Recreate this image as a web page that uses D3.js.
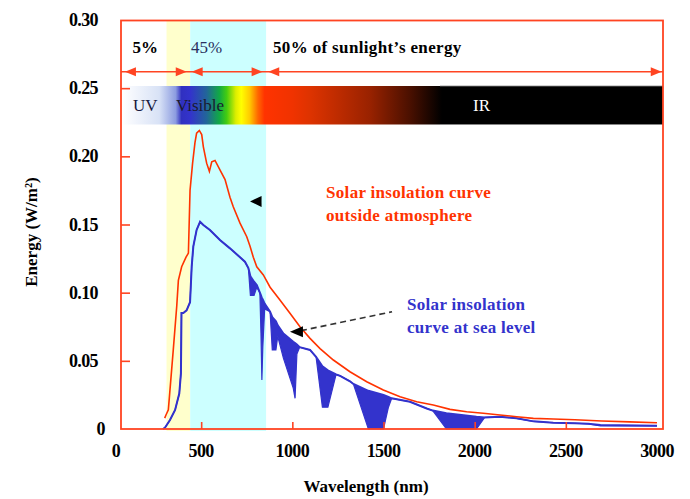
<!DOCTYPE html>
<html><head><meta charset="utf-8">
<script src="https://cdn.jsdelivr.net/npm/d3@7"></script>
<style>
body{margin:0;background:#fff;}
svg{display:block;font-family:"Liberation Serif","Times New Roman",serif;}
</style>
</head><body>
<svg id="c" width="690" height="499"></svg>
<script>
// ---------- data ----------
const wavelengthTicks = [0, 500, 1000, 1500, 2000, 2500, 3000];
const energyTicks = [0, 0.05, 0.10, 0.15, 0.20, 0.25, 0.30];

// Solar insolation curve outside atmosphere (nm, W/m²)
const outsideWl = [300, 307, 320, 347, 366, 375, 393, 417, 430, 439, 453, 466, 475, 490, 503, 512, 530, 545, 558, 576, 603, 631, 658, 676, 713, 750, 768, 786, 805, 841, 878, 932, 987, 1042, 1097, 1152, 1225, 1316, 1408, 1499, 1591, 1682, 1773, 1865, 1956, 2047, 2139, 2230, 2322, 2431, 2550, 2697, 2850, 3000];
const outsideEnergy = [0.008, 0.0103, 0.014, 0.058, 0.090, 0.109, 0.119, 0.126, 0.129, 0.175, 0.195, 0.210, 0.217, 0.219, 0.216, 0.207, 0.195, 0.189, 0.196, 0.197, 0.190, 0.183, 0.170, 0.163, 0.151, 0.141, 0.134, 0.126, 0.119, 0.113, 0.104, 0.0946, 0.0849, 0.075, 0.0665, 0.059, 0.0506, 0.042, 0.0347, 0.0286, 0.0237, 0.020, 0.0176, 0.0144, 0.0127, 0.0115, 0.0103, 0.009, 0.0078, 0.0073, 0.0068, 0.0059, 0.0052, 0.0046];

// Solar insolation curve at sea level: envelope and absorbed spectrum
const seaWl =       [290, 302, 329, 357, 380, 389, 392, 402, 420, 439, 448, 457, 475, 494, 512, 548, 603, 658, 713, 740, 759, 770, 790, 805, 822, 828, 833, 838, 848, 878, 890, 910, 920, 951, 1005, 1015, 1025, 1040, 1097, 1130, 1165, 1195, 1240, 1262, 1316, 1335, 1417, 1500, 1527, 1545, 1645, 1737, 1770, 1845, 2010, 2055, 2139, 2230, 2322, 2431, 2550, 2623, 2690, 3000];
const seaEnvelope = [0, 0.001, 0.0066, 0.014, 0.026, 0.041, 0.085, 0.085, 0.087, 0.093, 0.119, 0.134, 0.146, 0.152, 0.1496, 0.146, 0.1386, 0.1325, 0.126, 0.1227, 0.118, 0.112, 0.108, 0.1056, 0.100, 0.098, 0.096, 0.095, 0.092, 0.086, 0.082, 0.079, 0.076, 0.070, 0.064, 0.063, 0.062, 0.060, 0.058, 0.053, 0.046, 0.043, 0.040, 0.039, 0.035, 0.033, 0.028, 0.025, 0.0235, 0.0225, 0.020, 0.015, 0.0135, 0.0115, 0.009, 0.0085, 0.009, 0.0078, 0.0056, 0.0046, 0.0042, 0.0038, 0.0030, 0.0024];
const seaActual =   [0, 0.001, 0.0066, 0.014, 0.026, 0.041, 0.085, 0.085, 0.087, 0.093, 0.119, 0.134, 0.146, 0.152, 0.1496, 0.146, 0.1386, 0.1325, 0.126, 0.1227, 0.118, 0.098, 0.098, 0.104, 0.100, 0.070, 0.036, 0.060, 0.088, 0.086, 0.058, 0.058, 0.068, 0.052, 0.030, 0.0225, 0.055, 0.060, 0.058, 0.053, 0.016, 0.016, 0.040, 0.039, 0.035, 0.033, 0, 0, 0.016, 0.0225, 0.020, 0.015, 0.0135, 0, 0, 0.0085, 0.009, 0.0078, 0.0056, 0.0046, 0.0042, 0.0038, 0.0022, 0.0022];

// Spectral regions (nm)
const bandNames = ["UV", "Visible"];
const bandFrom = [310, 440];
const bandTo = [440, 856];

// Share of sunlight energy: arrow spans (nm) and labels
const shareLabels = ["5%", "45%", "50% of sunlight’s energy"];
const shareFrom = [82, 448, 868];
const shareTo = [421, 837, 3026];
const shareTextAt = [124, 444, 894];

// ---------- layout / style ----------
const svg = d3.select("#c");
const frame = {left: 121, right: 663, top: 20.5, bottom: 429};
const x = d3.scaleLinear().domain([0, 3000]).range([110, 657]);
const y = d3.scaleLinear().domain([0, 0.30]).range([429, 20]);
const RED = "#ff4422", CURVE_RED = "#ff3300", BLUE = "#3333cc";
const bandColors = ["#ffffcc", "#ccffff"];

// background bands
svg.append("g").selectAll("rect").data(bandNames).join("rect")
  .attr("x", (d, i) => x(bandFrom[i]))
  .attr("width", (d, i) => x(bandTo[i]) - x(bandFrom[i]))
  .attr("y", frame.top).attr("height", frame.bottom - frame.top + 2)
  .attr("fill", (d, i) => bandColors[i]);

// spectrum bar
const gradStops = [[66,"#ffffff"],[270,"#d8e2f6"],[360,"#8c9ce0"],[392,"#3030c0"],[440,"#3333cc"],[530,"#226699"],[600,"#11aa44"],[640,"#44cc11"],[690,"#ddee00"],[720,"#ffff00"],[765,"#ffcc00"],[812,"#ff6600"],[848,"#ff3300"],[1000,"#f03300"],[1100,"#dd3300"],[1425,"#992200"],[1645,"#4a1000"],[1820,"#000000"],[3040,"#000000"]];
const defs = svg.append("defs");
const lg = defs.append("linearGradient").attr("id", "spec")
  .attr("gradientUnits", "userSpaceOnUse")
  .attr("x1", x(gradStops[0][0])).attr("x2", x(gradStops[gradStops.length-1][0]))
  .attr("y1", 0).attr("y2", 0);
const g0 = x(gradStops[0][0]), g1 = x(gradStops[gradStops.length-1][0]);
lg.selectAll("stop").data(gradStops).join("stop")
  .attr("offset", d => (x(d[0]) - g0) / (g1 - g0))
  .attr("stop-color", d => d[1]);
const barTop = 86, barBottom = 124.5;
svg.append("rect").attr("x", frame.left).attr("y", barTop)
  .attr("width", frame.right - frame.left).attr("height", barBottom - barTop)
  .attr("fill", "url(#spec)");
svg.append("line").attr("x1", 440).attr("x2", frame.right).attr("y1", barTop).attr("y2", barTop).attr("stroke", "#888").attr("stroke-width", 0.8);
svg.append("line").attr("x1", 440).attr("x2", frame.right).attr("y1", barBottom).attr("y2", barBottom).attr("stroke", "#888").attr("stroke-width", 0.8);

const barMid = (barTop + barBottom) / 2 + 6;
svg.append("text").attr("x", 133).attr("y", barMid).attr("font-size", 17).attr("fill", "#1a1a40").text("UV");
svg.append("text").attr("x", 176).attr("y", barMid).attr("font-size", 17).attr("fill", "#1a1a30").text("Visible");
svg.append("text").attr("x", 473).attr("y", barMid).attr("font-size", 17).attr("fill", "#ffffff").text("IR");

// ---------- curves ----------
const sea = seaWl.map((w, i) => ({w, env: seaEnvelope[i], act: seaActual[i]}));
const outside = outsideWl.map((w, i) => ({w, v: outsideEnergy[i]}));

svg.append("path").datum(sea)
  .attr("d", d3.area().x(d => x(d.w)).y0(d => y(d.env)).y1(d => y(d.act)))
  .attr("fill", BLUE);
svg.append("path").datum(sea)
  .attr("d", d3.line().x(d => x(d.w)).y(d => y(d.env)))
  .attr("fill", "none").attr("stroke", BLUE).attr("stroke-width", 2);
svg.append("path").datum(sea)
  .attr("d", d3.line().x(d => x(d.w)).y(d => y(d.act)))
  .attr("fill", "none").attr("stroke", BLUE).attr("stroke-width", 1.2);

svg.append("path").datum(outside)
  .attr("d", d3.line().x(d => x(d.w)).y(d => y(d.v)))
  .attr("fill", "none").attr("stroke", CURVE_RED).attr("stroke-width", 1.6);

// ---------- frame & axes ----------
svg.append("rect").attr("x", frame.left).attr("y", frame.top)
  .attr("width", frame.right - frame.left).attr("height", frame.bottom - frame.top)
  .attr("fill", "none").attr("stroke", RED).attr("stroke-width", 1.8);

const yAxis = svg.append("g").attr("transform", `translate(${frame.left},0)`)
  .call(d3.axisRight(y).tickValues(energyTicks.filter(v => v > 0 && v < 0.3)).tickSize(9).tickFormat(""));
yAxis.select(".domain").remove();
yAxis.selectAll("line").attr("stroke", RED).attr("stroke-width", 1.6);

svg.append("g").selectAll("text").data(energyTicks).join("text")
  .attr("x", d => d === 0 ? 105 : 98).attr("y", d => y(d) + 6)
  .attr("text-anchor", "end").attr("font-size", 18).attr("font-weight", "bold")
  .attr("letter-spacing", -0.6)
  .text(d => d === 0 ? "0" : d3.format(".2f")(d));

const xAxis = svg.append("g").attr("transform", `translate(0,${frame.bottom})`)
  .call(d3.axisTop(x).tickValues(wavelengthTicks.filter(v => v > 0 && v < 3000)).tickSize(7).tickFormat(""));
xAxis.select(".domain").remove();
xAxis.selectAll("line").attr("stroke", RED).attr("stroke-width", 1.6);

svg.append("g").selectAll("text").data(wavelengthTicks).join("text")
  .attr("x", d => x(d) + (d === 0 ? 6 : 0)).attr("y", 456.5)
  .attr("text-anchor", "middle").attr("font-size", 18).attr("font-weight", "bold")
  .attr("letter-spacing", -0.6)
  .text(d => d);

svg.append("text").attr("x", 366).attr("y", 492).attr("text-anchor", "middle")
  .attr("font-size", 17).attr("font-weight", "bold").text("Wavelength (nm)");
svg.append("text").attr("transform", "translate(37,232) rotate(-90)").attr("text-anchor", "middle")
  .attr("font-size", 17).attr("font-weight", "bold").text("Energy (W/m²)");

// ---------- energy share arrows ----------
const arrowY = 71.7;
svg.append("line").attr("x1", frame.left).attr("x2", frame.right).attr("y1", arrowY).attr("y2", arrowY)
  .attr("stroke", RED).attr("stroke-width", 1.6);
const head = (tipX, dir) => {
  const L = 11, Hh = 4.5;
  return `M${tipX},${arrowY} L${tipX - dir * L},${arrowY - Hh} L${tipX - dir * L},${arrowY + Hh} Z`;
};
const heads = svg.append("g");
shareLabels.forEach((lab, i) => {
  heads.append("path").attr("d", head(x(shareFrom[i]), -1)).attr("fill", RED);
  heads.append("path").attr("d", head(x(shareTo[i]), 1)).attr("fill", RED);
});
svg.append("g").selectAll("text").data(shareLabels).join("text")
  .attr("x", (d, i) => x(shareTextAt[i])).attr("y", 52.5)
  .attr("font-size", 17)
  .attr("font-weight", (d, i) => i === 1 ? "normal" : "bold")
  .attr("letter-spacing", (d, i) => i === 2 ? 0.35 : 0)
  .attr("fill", (d, i) => i === 1 ? "#2a3060" : "#000")
  .text(d => d);

// ---------- annotations ----------
// red curve note
svg.append("path")
  .attr("d", `M${x(768)},${y(0.1669)} l11.5,-5.5 l0,11 Z`).attr("fill", "#000");
const redNote = svg.append("text").attr("font-size", 17).attr("font-weight", "bold")
  .attr("letter-spacing", 0.3).attr("fill", CURVE_RED);
redNote.append("tspan").attr("x", x(1185)).attr("y", y(0.1694)).text("Solar insolation curve");
redNote.append("tspan").attr("x", x(1185)).attr("y", y(0.1526)).text("outside atmosphere");

// blue curve note
svg.append("line").attr("x1", x(987) + 11).attr("y1", y(0.0714) - 1)
  .attr("x2", x(1547)).attr("y2", y(0.086))
  .attr("stroke", "#333").attr("stroke-width", 1.6).attr("stroke-dasharray", "6,4");
svg.append("path")
  .attr("d", `M${x(987)},${y(0.0714)} l13,-5.5 l0,11 Z`).attr("fill", "#000");
const blueNote = svg.append("text").attr("font-size", 17).attr("font-weight", "bold")
  .attr("letter-spacing", 0.3).attr("fill", BLUE);
blueNote.append("tspan").attr("x", x(1629)).attr("y", y(0.0873)).text("Solar insolation");
blueNote.append("tspan").attr("x", x(1629)).attr("y", y(0.0704)).text("curve at sea level");
</script>
</body></html>
